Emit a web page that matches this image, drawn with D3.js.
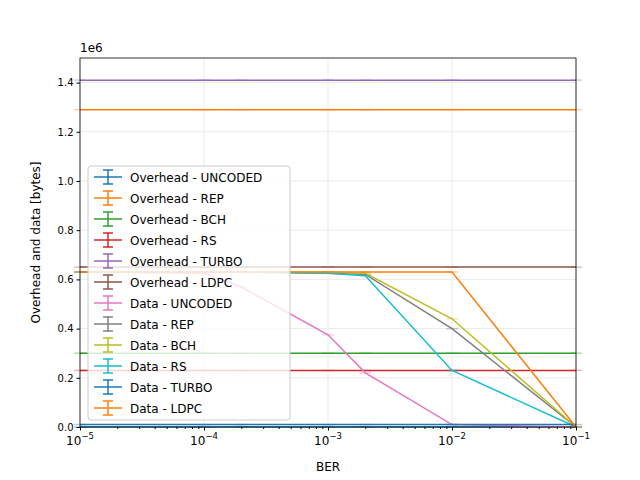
<!DOCTYPE html>
<html><head><meta charset="utf-8">
<script src="https://cdn.jsdelivr.net/npm/d3@7"></script>
<style>body{margin:0;background:#fff}text{font-family:"DejaVu Sans";}</style>
</head><body><svg id="c" width="640" height="480"></svg>
<script>
var bers = [1e-5, 1e-4, 2e-4, 1e-3, 2e-3, 1e-2, 1e-1];
var names = ["Overhead - UNCODED","Overhead - REP","Overhead - BCH","Overhead - RS","Overhead - TURBO","Overhead - LDPC",
  "Data - UNCODED","Data - REP","Data - BCH","Data - RS","Data - TURBO","Data - LDPC"];
var colors = ["#1f77b4","#ff7f0e","#2ca02c","#d62728","#9467bd","#8c564b","#e377c2","#7f7f7f","#bcbd22","#17becf","#1f77b4","#ff7f0e"];
var ovUncoded = [0,0,0,0,0,0,0];
var ovRep = [1.29e6,1.29e6,1.29e6,1.29e6,1.29e6,1.29e6,1.29e6];
var ovBch = [0.30e6,0.30e6,0.30e6,0.30e6,0.30e6,0.30e6,0.30e6];
var ovRs = [0.23e6,0.23e6,0.23e6,0.23e6,0.23e6,0.23e6,0.23e6];
var ovTurbo = [1.41e6,1.41e6,1.41e6,1.41e6,1.41e6,1.41e6,1.41e6];
var ovLdpc = [0.65e6,0.65e6,0.65e6,0.65e6,0.65e6,0.65e6,0.65e6];
var dUncoded = [0.63e6,0.625e6,0.57e6,0.375e6,0.22e6,0.01e6,0];
var dRep = [0.63e6,0.63e6,0.63e6,0.625e6,0.62e6,0.40e6,0];
var dBch = [0.63e6,0.63e6,0.63e6,0.63e6,0.625e6,0.44e6,0];
var dRs = [0.63e6,0.63e6,0.63e6,0.625e6,0.615e6,0.23e6,0];
var dTurbo = [0.01e6,0.01e6,0.01e6,0.01e6,0.01e6,0.01e6,0.01e6];
var dLdpc = [0.63e6,0.63e6,0.63e6,0.63e6,0.63e6,0.63e6,0];
var series = [ovUncoded,ovRep,ovBch,ovRs,ovTurbo,ovLdpc,dUncoded,dRep,dBch,dRs,dTurbo,dLdpc];
var xTicks = [1e-5,1e-4,1e-3,1e-2,1e-1];
var xTickLabels = ["-5","-4","-3","-2","-1"];
var yTicks = [0,0.2e6,0.4e6,0.6e6,0.8e6,1.0e6,1.2e6,1.4e6];

var L=80,R=576,T=58,B=427;
var svg = d3.select("#c");
var x = d3.scaleLog().domain([1e-5,1e-1]).range([L,R]);
var y = d3.scaleLinear().domain([0,1.5e6]).range([B,T]);

// grid
svg.append("g").selectAll("line").data(xTicks).enter().append("line")
  .attr("x1",d=>x(d)).attr("x2",d=>x(d)).attr("y1",T).attr("y2",B).attr("stroke","#ebebeb");
svg.append("g").selectAll("line").data(yTicks).enter().append("line")
  .attr("x1",L).attr("x2",R).attr("y1",d=>y(d)).attr("y2",d=>y(d)).attr("stroke","#ebebeb");

var line = d3.line().x((d,i)=>x(bers[i])).y(d=>y(d));
series.forEach(function(s,k){
  var g = svg.append("g").attr("stroke",colors[k]).attr("fill","none");
  g.append("path").attr("d",line(s)).attr("stroke-width",1.5);
  g.selectAll("line").data(s).enter().append("line")
    .attr("x1",(d,i)=>x(bers[i])-6).attr("x2",(d,i)=>x(bers[i])+6)
    .attr("y1",d=>y(d)).attr("y2",d=>y(d)).attr("stroke-width",1.5).attr("stroke-opacity",0.35);
});

// axes
var xa = svg.append("g").attr("transform","translate(0,"+B+")")
  .call(d3.axisBottom(x).tickValues(xTicks).tickFormat("").tickSize(3.5));
xa.append("g").call(d3.axisBottom(x).tickValues(d3.range(-5,-1).flatMap(e=>d3.range(2,10).map(m=>m*Math.pow(10,e)))).tickFormat("").tickSize(2));
xa.selectAll(".domain").remove();
var xl = svg.append("g").selectAll("text").data(xTicks).enter().append("text")
  .attr("x",d=>x(d)).attr("y",B+18).attr("text-anchor","middle").attr("font-size",12);
xl.append("tspan").text("10");
xl.append("tspan").attr("dy",-6).attr("font-size",8.5).text((d,i)=>"\u2212"+xTickLabels[i].slice(1));
var ya = svg.append("g").attr("transform","translate("+L+",0)")
  .call(d3.axisLeft(y).tickValues(yTicks).tickFormat(d=>(d/1e6).toFixed(1)).tickSize(3.5));
ya.selectAll("text").attr("font-size",10).attr("font-family","DejaVu Sans");
ya.selectAll(".domain").remove();
svg.append("rect").attr("x",L).attr("y",T).attr("width",R-L).attr("height",B-T).attr("fill","none").attr("stroke","#000").attr("stroke-width",0.8);
svg.append("text").attr("x",80).attr("y",52).attr("font-size",12).text("1e6");
svg.append("text").attr("x",(L+R)/2).attr("y",471).attr("text-anchor","middle").attr("font-size",12).text("BER");
svg.append("text").attr("transform","translate(40,"+((T+B)/2)+") rotate(-90)").attr("text-anchor","middle").attr("font-size",12).text("Overhead and data [bytes]");

// legend
var lg = svg.append("g").attr("transform","translate(88,166)");
lg.append("rect").attr("width",202).attr("height",254).attr("rx",3).attr("fill","#fff").attr("fill-opacity",0.8).attr("stroke","#ccc");
var it = lg.selectAll("g").data(names).enter().append("g").attr("transform",(d,i)=>"translate(0,"+(11+i*21)+")");
it.append("line").attr("x1",6).attr("x2",34).attr("stroke",(d,i)=>colors[i]).attr("stroke-width",1.5);
it.append("line").attr("x1",20).attr("x2",20).attr("y1",-7).attr("y2",7).attr("stroke",(d,i)=>colors[i]).attr("stroke-width",1.5);
it.append("line").attr("x1",15).attr("x2",25).attr("y1",-7).attr("y2",-7).attr("stroke",(d,i)=>colors[i]).attr("stroke-width",1.5);
it.append("line").attr("x1",15).attr("x2",25).attr("y1",7).attr("y2",7).attr("stroke",(d,i)=>colors[i]).attr("stroke-width",1.5);
it.append("text").attr("x",42).attr("y",4.5).attr("font-size",12).text(d=>d);
</script></body></html>
